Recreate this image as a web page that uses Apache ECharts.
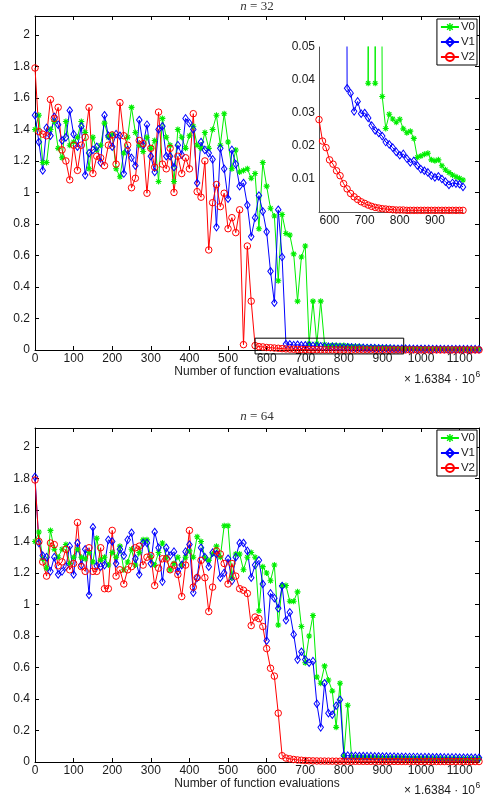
<!DOCTYPE html>
<html><head><meta charset="utf-8">
<script src="https://cdn.jsdelivr.net/npm/echarts@6/dist/echarts.min.js"></script>
<style>html,body{margin:0;padding:0;background:#fff}#c{width:486px;height:803px}</style>
</head><body><div id="c"></div>
<script>
// Number of function evaluations (x 1.6384e6)
const evals = [0,10,20,30,40,50,60,70,80,90,100,110,120,130,140,150,160,170,180,190,200,210,220,230,240,250,260,270,280,290,300,310,320,330,340,350,360,370,380,390,400,410,420,430,440,450,460,470,480,490,500,510,520,530,540,550,560,570,580,590,600,610,620,630,640,650,660,670,680,690,700,710,720,730,740,750,760,770,780,790,800,810,820,830,840,850,860,870,880,890,900,910,920,930,940,950,960,970,980,990,1000,1010,1020,1030,1040,1050,1060,1070,1080,1090,1100,1110,1120,1130,1140,1150];

// n = 32
const n32_V0 = [1.40,1.49,1.19,1.19,1.40,1.45,1.28,1.22,1.45,1.30,
 1.32,1.35,1.45,1.38,1.15,1.35,1.27,1.30,1.44,1.35,
 1.37,1.15,1.10,1.25,1.35,1.54,1.38,1.30,1.26,1.35,
 1.28,1.33,1.07,1.47,1.35,1.30,1.07,1.40,1.35,1.28,
 1.36,1.42,1.30,1.28,1.38,1.28,1.40,1.49,1.30,1.50,
 1.32,1.15,1.27,1.13,1.14,1.15,1.09,1.12,0.77,1.19,
 1.04,0.90,0.85,0.44,0.86,0.74,0.73,0.61,0.31,0.59,
 0.66,0.039,0.31,0.039,0.31,0.035,0.0253,0.0296,0.0282,0.0272,
 0.0281,0.0252,0.0240,0.0245,0.0223,0.0165,0.0170,0.0175,0.0178,0.0158,
 0.0155,0.0158,0.0140,0.0128,0.0120,0.0112,0.0107,0.0102,0.0097,0.0094,
 0.0091,0.0088,0.0086,0.0083,0.0081,0.0079,0.0077,0.0075,0.0073,0.0071,
 0.0070,0.0068,0.0067,0.0065,0.0064,0.0063];
const n32_V1 = [1.49,1.32,1.14,1.41,1.36,1.48,1.43,1.33,1.35,1.52,
 1.37,1.29,1.42,1.11,1.25,1.27,1.29,1.19,1.49,1.36,
 1.29,1.37,1.36,1.12,1.27,1.22,1.17,1.46,1.30,1.43,
 1.23,1.13,1.40,1.42,1.23,1.23,1.16,1.30,1.24,1.47,
 1.44,1.40,1.06,1.32,1.27,1.25,1.21,0.78,1.28,1.15,
 0.96,1.27,1.18,1.04,1.06,0.92,0.72,0.84,0.98,0.88,
 0.75,0.50,0.30,0.89,0.59,0.0375,0.036,0.0305,0.0335,0.0298,
 0.0300,0.0285,0.0262,0.0247,0.0240,0.0230,0.0212,0.0205,0.0195,0.0182,
 0.0172,0.0176,0.0162,0.0150,0.0155,0.0141,0.0130,0.0125,0.0120,0.0110,
 0.0105,0.0108,0.0100,0.0092,0.0082,0.0088,0.0086,0.0084,0.0076,0.0074,
 0.0072,0.0070,0.0068,0.0066,0.0064,0.0063,0.0061,0.0060,0.0058,0.0057,
 0.0056,0.0055,0.0053,0.0052,0.0051,0.0050];
const n32_V2 = [1.79,1.386,1.37,1.36,1.59,1.47,1.54,1.27,1.20,1.08,
 1.30,1.14,1.30,1.35,1.54,1.12,1.23,1.22,1.17,1.30,
 1.365,1.18,1.57,1.36,1.30,1.03,1.09,1.33,1.31,0.995,
 1.28,1.16,1.51,1.18,1.15,1.28,1.00,1.23,1.12,1.22,
 1.15,1.50,1.005,0.97,1.20,0.635,0.935,1.05,0.91,0.995,
 0.77,0.84,0.745,0.89,0.034,0.66,0.31,0.028,0.0215,0.0195,
 0.0158,0.0145,0.0125,0.0110,0.0086,0.0070,0.0056,0.0046,0.0038,0.0031,
 0.0026,0.0021,0.0017,0.0014,0.0012,0.0010,0.0009,0.0008,0.0007,0.0006,
 0.0006,0.0006,0.0005,0.0005,0.0005,0.0005,0.0005,0.0005,0.0005,0.0005,
 0.0005,0.0005,0.0005,0.0005,0.0005,0.0005,0.0005,0.0005,0.0005,0.0005,
 0.0004,0.0004,0.0004,0.0004,0.0004,0.0004,0.0004,0.0004,0.0004,0.0004,
 0.0004,0.0004,0.0004,0.0004,0.0004,0.0004];

// n = 64
const n64_V0 = [1.40,1.46,1.29,1.23,1.47,1.35,1.30,1.35,1.38,1.26,
 1.30,1.35,1.30,1.29,1.33,1.27,1.42,1.28,1.30,1.25,
 1.33,1.30,1.37,1.22,1.27,1.35,1.25,1.33,1.41,1.41,
 1.30,1.25,1.33,1.39,1.30,1.22,1.26,1.30,1.25,1.30,
 1.34,1.30,1.43,1.40,1.30,1.28,1.32,1.37,1.30,1.50,
 1.50,1.17,1.32,1.32,1.22,1.30,1.33,1.30,0.96,1.24,
 1.20,1.15,1.25,0.87,1.12,1.12,1.02,1.02,1.08,0.86,
 0.63,0.80,0.93,0.54,0.50,0.61,0.52,0.45,0.22,0.50,
 0.035,0.36,0.030,0.030,0.029,0.029,0.028,0.028,0.027,0.027,
 0.026,0.026,0.026,0.025,0.025,0.025,0.024,0.024,0.024,0.023,
 0.023,0.023,0.022,0.022,0.022,0.022,0.021,0.021,0.021,0.021,
 0.020,0.020,0.020,0.020,0.019,0.019];
const n64_V1 = [1.81,1.39,1.31,1.30,1.21,1.30,1.19,1.21,1.24,1.37,
 1.19,1.39,1.25,1.35,1.06,1.49,1.245,1.24,1.25,1.41,
 1.40,1.26,1.35,1.31,1.41,1.455,1.29,1.19,1.39,1.39,
 1.26,1.46,1.36,1.145,1.36,1.31,1.335,1.21,1.25,1.335,
 1.38,1.075,1.17,1.36,1.30,1.24,1.33,1.32,1.17,1.20,
 1.29,1.15,1.30,1.39,1.39,1.34,1.17,1.25,1.28,1.13,
 0.77,1.07,1.04,0.976,1.117,0.90,0.95,0.81,0.65,0.70,
 0.65,0.63,0.64,0.37,0.22,0.50,0.31,0.30,0.357,0.395,
 0.042,0.040,0.039,0.039,0.038,0.038,0.037,0.037,0.036,0.036,
 0.035,0.035,0.034,0.034,0.033,0.033,0.033,0.032,0.032,0.032,
 0.031,0.031,0.031,0.030,0.030,0.030,0.029,0.029,0.029,0.029,
 0.028,0.028,0.028,0.028,0.027,0.027];
const n64_V2 = [1.79,1.40,1.27,1.18,1.39,1.38,1.245,1.27,1.35,1.22,
 1.26,1.52,1.24,1.21,1.36,1.21,1.21,1.36,1.10,1.10,
 1.47,1.18,1.22,1.13,1.22,1.24,1.36,1.37,1.25,1.30,
 1.31,1.12,1.23,1.29,1.29,1.22,1.25,1.19,1.05,1.25,
 1.47,1.11,1.17,1.28,1.17,0.955,1.11,1.34,1.32,1.26,
 1.13,1.26,1.18,1.10,1.09,1.07,0.866,0.92,0.91,0.86,
 0.72,0.595,0.545,0.31,0.040,0.025,0.020,0.016,0.013,0.011,
 0.009,0.008,0.007,0.0065,0.006,0.0058,0.0055,0.0053,0.0051,0.0050,
 0.0049,0.0048,0.0047,0.0046,0.0045,0.0044,0.0043,0.0042,0.0041,0.0040,
 0.0040,0.0039,0.0039,0.0038,0.0038,0.0037,0.0037,0.0036,0.0036,0.0035,
 0.0035,0.0035,0.0034,0.0034,0.0034,0.0033,0.0033,0.0033,0.0032,0.0032,
 0.0032,0.0031,0.0031,0.0031,0.0030,0.0030];

const seriesNames = ['V0','V1','V2'];
const panelTitles = ['32','64'];
const xAxisName = 'Number of function evaluations';
const yAxisName = 'Relative error';
const scaleText = '\u00d7 1.6384 \u00b7 10';
const scaleExp = '6';
// zoom box drawn on the n = 32 panel (data coords)
const boxX = [570, 955];
const boxY = [-0.025, 0.075];
// inset ranges
const insetX = [570, 980];
const insetY = [0, 0.05];

const FONT = '"Liberation Sans", Arial, Helvetica, sans-serif';
const TXT = '#1a1a1a';
const STAR = 'path://M-5,-0.9L5,-0.9L5,0.9L-5,0.9Z M-0.9,-5L0.9,-5L0.9,5L-0.9,5Z M-4.18,-2.9L-2.9,-4.18L4.18,2.9L2.9,4.18Z M2.9,-4.18L4.18,-2.9L-2.9,4.18L-4.18,2.9Z';
const STY = {
  V0: {color:'#00ee00', symbol: STAR, size: 6, fill:'#00ee00', bw:0},
  V1: {color:'#0000ff', symbol:'diamond', size:[5.5,7.5], fill:'rgba(255,255,255,0)', bw:1},
  V2: {color:'#ff0000', symbol:'circle', size:6.5, fill:'rgba(255,255,255,0)', bw:1}
};
const plain = v => String(v);
function mk(name, vals, xi, yi, range) {
  const s = STY[name];
  let pts = evals.map((x,i)=>[x, vals[i]]);
  if (range) pts = pts.filter(p => p[0] >= range[0] && p[0] <= range[1]);
  return {
    name, type:'line', xAxisIndex:xi, yAxisIndex:yi, data: pts,
    symbol:s.symbol, symbolSize:s.size, showSymbol:true, showAllSymbol:true,
    lineStyle:{color:s.color, width:1},
    itemStyle:{color:s.fill, borderColor:s.color, borderWidth:s.bw},
    clip:true, silent:true, animation:false, emphasis:{disabled:true}
  };
}

const G = [
  {left:35, right:7, top:16, height:334, outerBoundsMode:'none', containLabel:false},
  {left:35, right:7, top:428, height:334, outerBoundsMode:'none', containLabel:false},
  {left:319, top:47, width:144, height:165, outerBoundsMode:'none', containLabel:false}
];

function xMain(gi, top) {
  return {
    type:'value', gridIndex:gi, min:0, max:1150, interval:100,
    position: top ? 'top' : 'bottom',
    axisLine:{show:true, onZero:false, lineStyle:{color:'#000', width:1}},
    axisTick:{show:true, inside:true, length:4, lineStyle:{color:'#000'}},
    axisLabel:{show:!top, showMaxLabel:false, margin:3, fontSize:12, color:TXT, fontFamily:FONT, formatter:plain},
    splitLine:{show:false},
    name: top ? '' : xAxisName, nameLocation:'middle', nameGap:14,
    nameTextStyle:{fontSize:12, color:TXT, fontFamily:FONT}
  };
}
function yMain(gi, right) {
  return {
    type:'value', gridIndex:gi, min:0, max:2.12, interval:0.2,
    position: right ? 'right' : 'left',
    axisLine:{show:true, onZero:false, lineStyle:{color:'#000', width:1}},
    axisTick:{show:true, inside:true, length:4, lineStyle:{color:'#000'}},
    axisLabel:{show:!right, showMaxLabel:false, margin:5, fontSize:12, color:TXT, fontFamily:FONT},
    splitLine:{show:false},
    name: right ? '' : yAxisName, nameLocation:'middle', nameGap:22, nameRotate:90,
    nameTextStyle:{fontSize:12, color:TXT, fontFamily:FONT}
  };
}

const xAxis = [xMain(0,false), xMain(0,true), xMain(1,false), xMain(1,true), {
  type:'value', gridIndex:2, min:insetX[0], max:insetX[1],
  axisLine:{show:true, onZero:false, lineStyle:{color:'#555', width:1}},
  axisTick:{show:false},
  axisLabel:{showMinLabel:false, showMaxLabel:false, margin:3, fontSize:12, color:TXT, fontFamily:FONT, formatter:plain},
  splitLine:{show:false}
}];
const yAxis = [yMain(0,false), yMain(0,true), yMain(1,false), yMain(1,true), {
  type:'value', gridIndex:2, min:insetY[0], max:insetY[1], interval:0.01,
  axisLine:{show:true, onZero:false, lineStyle:{color:'#555', width:1}},
  axisTick:{show:false},
  axisLabel:{showMinLabel:false, margin:4, fontSize:12, color:TXT, fontFamily:FONT},
  splitLine:{show:false}
}];

const series = [
  mk('V0', n32_V0, 0, 0), mk('V1', n32_V1, 0, 0), mk('V2', n32_V2, 0, 0),
  mk('V0', n64_V0, 2, 2), mk('V1', n64_V1, 2, 2), mk('V2', n64_V2, 2, 2),
  mk('V0', n32_V0, 4, 4, insetX), mk('V1', n32_V1, 4, 4, [640, insetX[1]]), mk('V2', n32_V2, 4, 4, insetX),
  {
    name:'zoombox', type:'line', xAxisIndex:0, yAxisIndex:0, clip:false, silent:true, animation:false,
    data:[[boxX[0],boxY[0]],[boxX[1],boxY[0]],[boxX[1],boxY[1]],[boxX[0],boxY[1]],[boxX[0],boxY[0]]],
    symbol:'none', lineStyle:{color:'#000', width:1}, z:5
  }
];

function legendAt(top) {
  return {
    data: seriesNames, orient:'vertical', right:9, top:top,
    padding:[2,2,2,3], itemGap:3, itemWidth:18, itemHeight:10,
    backgroundColor:'#fff', borderColor:'#000', borderWidth:1, borderRadius:0,
    textStyle:{fontSize:11.5, color:TXT, fontFamily:FONT, padding:[0,0,0,-3]},
    selectedMode:false
  };
}

function titleText(t, y) {
  return {type:'text', x:257, y:y, silent:true, style:{
    text:'{i|n}{r| = ' + t + '}', align:'center', verticalAlign:'middle',
    rich:{i:{fontStyle:'italic', fontFamily:'"Liberation Serif", serif', fontSize:13, fill:'#333'},
          r:{fontFamily:'"Liberation Serif", serif', fontSize:13, fill:'#333'}}
  }};
}
function scaleLabel(y) {
  return [
    {type:'text', x:475, y:y, silent:true, style:{text:scaleText, align:'right', verticalAlign:'middle', fontSize:12, fontFamily:FONT, fill:TXT}},
    {type:'text', x:475.5, y:y-5, silent:true, style:{text:scaleExp, align:'left', verticalAlign:'middle', fontSize:8.5, fontFamily:FONT, fill:TXT}}
  ];
}

const chart = echarts.init(document.getElementById('c'), null, {renderer:'canvas'});
chart.setOption({
  backgroundColor:'#fff', animation:false,
  grid: G, xAxis, yAxis, series,
  legend:[legendAt(19), legendAt(430)],
  graphic:[titleText(panelTitles[0], 7), titleText(panelTitles[1], 417), ...scaleLabel(380), ...scaleLabel(791)]
});
</script>
</body></html>
